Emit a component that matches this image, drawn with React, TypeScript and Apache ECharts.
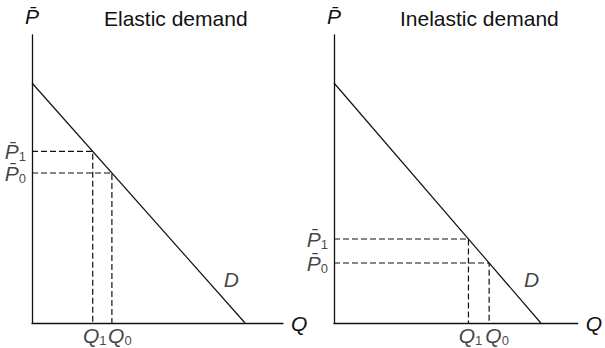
import React, { useEffect, useRef } from "react";
import * as echarts from "echarts";

// Demand curve endpoints (same linear demand in both panels)
const demandLine: number[][] = [[0, 10], [10, 0]];
const panelTitles = ["Elastic demand", "Inelastic demand"];
// Price levels [P1, P0] and quantities [Q1, Q0] for each panel
const elasticPrices = [7.15, 6.25];
const elasticQuantities = [2.85, 3.75];
const inelasticPrices = [3.5, 2.5];
const inelasticQuantities = [6.5, 7.5];
const subscripts = ["1", "0"];
// Position of the "D" label in each panel (data units)
const dLabelPoints: number[][] = [[9.35, 1.8], [9.55, 1.8]];

const X_MAX = 11.78;
const Y_MAX = 12;
const FONT = "'Liberation Sans', Arial, Helvetica, sans-serif";
const INK = "#111111";
const QLABEL_SHIFT = [2, 8];

function makeRich(lh: number) {
  return {
    p: { fontStyle: "italic", fontSize: 21, lineHeight: lh, fontFamily: FONT, color: INK },
    s: { fontSize: 13, lineHeight: lh, fontFamily: FONT, color: INK, verticalAlign: "bottom" },
  };
}
const rich = makeRich(24);
const richQ = makeRich(23);

function panelSeries(idx: number, prices: number[], quantities: number[]) {
  const series: any[] = [];
  series.push({
    type: "line",
    xAxisIndex: idx,
    yAxisIndex: idx,
    data: demandLine,
    symbol: "none",
    silent: true,
    lineStyle: { color: INK, width: 1.2 },
  });
  prices.forEach((p, i) => {
    series.push({
      type: "line",
      xAxisIndex: idx,
      yAxisIndex: idx,
      data: [[0, p], [quantities[i], p], [quantities[i], 0]],
      symbol: "none",
      silent: true,
      lineStyle: { color: INK, width: 1.2, type: [6, 3] },
    });
  });
  series.push({
    type: "scatter",
    xAxisIndex: idx,
    yAxisIndex: idx,
    symbolSize: 0,
    silent: true,
    data: [
      ...prices.map((p, i) => ({
        value: [0, p],
        label: {
          show: true,
          position: "left",
          distance: 6,
          formatter: "{p|P\u0304}{s|" + subscripts[i] + "}",
          rich,
        },
      })),
      ...quantities.map((q, i) => ({
        value: [q, 0],
        label: {
          show: true,
          position: "bottom",
          distance: 1,
          offset: [QLABEL_SHIFT[i], 0],
          formatter: "{p|Q}{s|" + subscripts[i] + "}",
          rich: richQ,
        },
      })),
      {
        value: dLabelPoints[idx],
        label: {
          show: true,
          position: "inside",
          formatter: "{p|D}",
          rich,
        },
      },
    ],
  });
  return series;
}

export default function App() {
  const ref = useRef<HTMLDivElement>(null);
  useEffect(() => {
    if (!ref.current) return;
    const chart = echarts.init(ref.current, null, { renderer: "svg" });
    const axisLine = { show: true, lineStyle: { color: INK, width: 1.3 } };
    const xAxis = [0, 1].map((i) => ({
      type: "value",
      gridIndex: i,
      min: 0,
      max: X_MAX,
      axisLine: { ...axisLine, onZero: false },
      axisTick: { show: false },
      axisLabel: { show: false },
      splitLine: { show: false },
      name: "Q",
      nameLocation: "end",
      nameGap: 8,
      nameTextStyle: { fontStyle: "italic", fontSize: 21, fontFamily: FONT, color: INK, verticalAlign: "middle" },
    }));
    const yAxis = [0, 1].map((i) => ({
      type: "value",
      gridIndex: i,
      min: 0,
      max: Y_MAX,
      axisLine: { ...axisLine, onZero: false },
      axisTick: { show: false },
      axisLabel: { show: false },
      splitLine: { show: false },
      name: "P\u0304",
      nameLocation: "end",
      nameGap: 8,
      nameTextStyle: { fontStyle: "italic", fontSize: 21, fontFamily: FONT, color: INK, align: "center" },
    }));
    chart.setOption({
      animation: false,
      backgroundColor: "#ffffff",
      title: [
        { text: panelTitles[0], left: 104, top: 8, padding: 0, textStyle: { fontSize: 21, fontWeight: "normal", fontFamily: FONT, color: INK } },
        { text: panelTitles[1], left: 400, top: 8, padding: 0, textStyle: { fontSize: 21, fontWeight: "normal", fontFamily: FONT, color: INK } },
      ],
      grid: [
        { left: 32, top: 35, width: 251, height: 288 },
        { left: 334, top: 35, width: 251, height: 288 },
      ],
      xAxis,
      yAxis,
      series: [
        ...panelSeries(0, elasticPrices, elasticQuantities),
        ...panelSeries(1, inelasticPrices, inelasticQuantities),
      ],
    });
    return () => chart.dispose();
  }, []);
  return (
    <div
      ref={ref}
      style={{ position: "fixed", left: 0, top: 0, width: 605, height: 348, background: "#fff" }}
    />
  );
}
